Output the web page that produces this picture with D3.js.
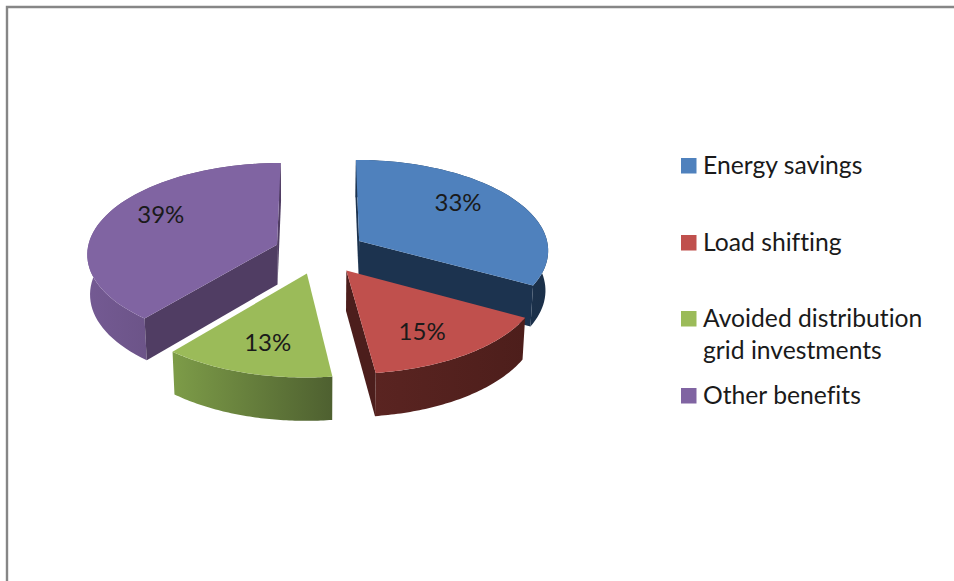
<!DOCTYPE html>
<html>
<head>
<meta charset="utf-8">
<script src="https://cdn.jsdelivr.net/npm/d3@7"></script>
<style>
  html, body { margin: 0; padding: 0; background: #fff; }
  svg { display: block; }
  text { font-family: Lato, "Open Sans", sans-serif; fill: #1a1a1a; font-variant-ligatures: none; }
</style>
</head>
<body>
<svg id="chart" width="954" height="581"></svg>
<script>
// Chart values
const categories = ["Energy savings", "Load shifting", "Avoided distribution grid investments", "Other benefits"];
const shares = [33, 15, 13, 39];
const legendLines = [["Energy savings"], ["Load shifting"], ["Avoided distribution", "grid investments"], ["Other benefits"]];

// Slice palette: top face, flat radial wall, outer wall gradient (left to right)
const topColors = ["#4f81bd", "#c0504d", "#9bbb59", "#8064a2"];
const wallColors = ["#1c334f", "#4c1e1c", "#55683a", "#503d63"];
const rimStops = [["#1f3a5a", "#1b3049"], ["#5a2421", "#4d1e1b"], ["#7d9c48", "#4e6030"], ["#745a93", "#5a4670"]];

// Scene parameters for the tilted, exploded pie
const cx = 320, cy = 252;
const radius = 190, thickness = 46, explode = 46;
const tilt = 28.4 * Math.PI / 180, focal = 1830;
const labelFraction = 0.65;
// Fine placement of each percentage label, in pixels
const labelNudge = [[-2, -10], [0, 8], [-1, 7], [-4, -11]];

const svg = d3.select("#chart");
const defs = svg.append("defs");

// Frame around the chart area (only top and left edges fall inside the page)
svg.append("path")
  .attr("d", d3.line()([[7, 581], [7, 7], [954, 7]]))
  .attr("fill", "none")
  .attr("stroke", "#868686")
  .attr("stroke-width", 2.4);

// Ground-plane point to screen, with perspective
function project(u, v, z) {
  const screenY = v * Math.sin(tilt) - z * Math.cos(tilt);
  const depth = v * Math.cos(tilt) + z * Math.sin(tilt);
  const k = focal / (focal - depth);
  return [cx + u * k, cy + screenY * k];
}

const pie = d3.pie().sort(null).value(d => d);
const arcs = pie(shares);
const polygon = d3.line().curve(d3.curveLinearClosed);

// Draw back slices first so the nearer ones overlap them
const order = arcs.map((a, i) => ({ a, i }))
  .sort((p, q) => Math.cos((p.a.startAngle + p.a.endAngle) / 2) - Math.cos((q.a.startAngle + q.a.endAngle) / 2))
  .reverse();

order.forEach(({ a, i }) => {
  const mid = (a.startAngle + a.endAngle) / 2;
  const ox = explode * Math.sin(mid), oy = -explode * Math.cos(mid);
  const pt = (angle, r, z) => project(ox + r * Math.sin(angle), oy - r * Math.cos(angle), z);

  const steps = d3.range(0, 61).map(s => a.startAngle + (a.endAngle - a.startAngle) * s / 60);
  const topRim = steps.map(t => pt(t, radius, 0));
  const bottomRim = steps.map(t => pt(t, radius, -thickness));

  const g = svg.append("g").attr("class", "slice");

  // Outer wall with a left-to-right shading
  const xs = topRim.map(p => p[0]);
  const gradId = "rim" + i;
  const grad = defs.append("linearGradient")
    .attr("id", gradId)
    .attr("gradientUnits", "userSpaceOnUse")
    .attr("x1", d3.min(xs)).attr("x2", d3.max(xs))
    .attr("y1", 0).attr("y2", 0);
  grad.append("stop").attr("offset", 0).attr("stop-color", rimStops[i][0]);
  grad.append("stop").attr("offset", 1).attr("stop-color", rimStops[i][1]);

  g.append("path")
    .attr("d", polygon(topRim.concat(bottomRim.slice().reverse())))
    .attr("fill", `url(#${gradId})`);

  // Radial walls; the winding of the projected quad tells whether it faces the viewer
  const wallQuad = t => [pt(0, 0, 0), pt(t, radius, 0), pt(t, radius, -thickness), pt(0, 0, -thickness)];
  [[a.startAngle, 1], [a.endAngle, -1]].forEach(([t, facing]) => {
    const quad = wallQuad(t);
    if (d3.polygonArea(quad) * facing > 0) {
      g.append("path").attr("d", polygon(quad)).attr("fill", wallColors[i]);
    }
  });

  // Top face
  g.append("path")
    .attr("d", polygon([pt(0, 0, 0)].concat(topRim)))
    .attr("fill", topColors[i]);
});

// Percentage labels on the top faces
const labelPoint = (d, i) => {
  const mid = (d.startAngle + d.endAngle) / 2;
  const r = explode + radius * labelFraction;
  const p = project(r * Math.sin(mid), -r * Math.cos(mid), 0);
  return [p[0] + labelNudge[i][0], p[1] + labelNudge[i][1]];
};
svg.append("g").selectAll("text")
  .data(arcs)
  .join("text")
  .attr("text-anchor", "middle")
  .attr("font-size", 24)
  .attr("x", (d, i) => labelPoint(d, i)[0])
  .attr("y", (d, i) => labelPoint(d, i)[1])
  .attr("dy", "0.35em")
  .text(d => d.value + "%");

// Legend
const legendBaselines = [[174], [251], [327, 359], [404]];
const legend = svg.append("g").selectAll("g")
  .data(categories)
  .join("g");
legend.append("rect")
  .attr("x", 681)
  .attr("y", (d, i) => legendBaselines[i][0] - 16)
  .attr("width", 15.5)
  .attr("height", 15.5)
  .attr("fill", (d, i) => topColors[i]);
legend.each(function (d, i) {
  d3.select(this).selectAll("text")
    .data(legendLines[i])
    .join("text")
    .attr("x", 703)
    .attr("y", (line, j) => legendBaselines[i][j])
    .attr("font-size", 24.7)
    .text(line => line);
});
</script>
</body>
</html>
